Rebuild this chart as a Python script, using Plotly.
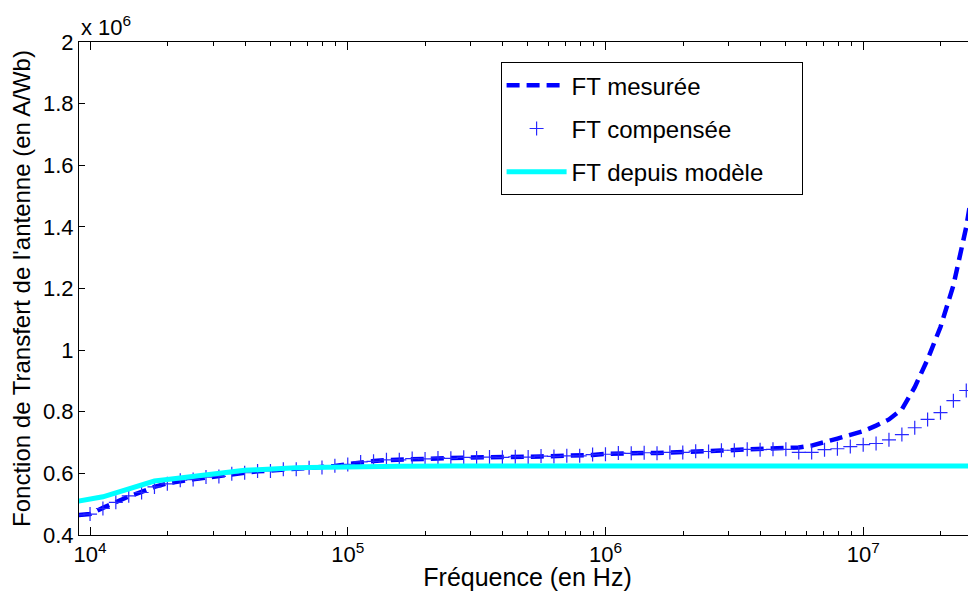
import numpy as np
import plotly.graph_objs as go

# frequency grid (Hz)
freq = [9.0e3,
        1.000e4, 1.122e4, 1.259e4, 1.413e4, 1.585e4, 1.778e4, 1.995e4, 2.239e4, 2.512e4, 2.818e4,
        3.162e4, 3.548e4, 3.981e4, 4.467e4, 5.012e4, 5.623e4, 6.310e4, 7.079e4, 7.943e4, 8.913e4,
        1.000e5, 1.122e5, 1.259e5, 1.413e5, 1.585e5, 1.778e5, 1.995e5, 2.239e5, 2.512e5, 2.818e5,
        3.162e5, 3.548e5, 3.981e5, 4.467e5, 5.012e5, 5.623e5, 6.310e5, 7.079e5, 7.943e5, 8.913e5,
        1.000e6, 1.122e6, 1.259e6, 1.413e6, 1.585e6, 1.778e6, 1.995e6, 2.239e6, 2.512e6, 2.818e6,
        3.162e6, 3.548e6, 3.981e6, 4.467e6, 5.012e6, 5.623e6, 6.310e6, 7.079e6, 7.943e6, 8.913e6,
        1.000e7, 1.122e7, 1.259e7, 1.413e7, 1.585e7, 1.778e7, 1.995e7, 2.239e7, 2.512e7, 2.818e7]

# values in units of 10^6 A/Wb
ft_mesuree = [0.465,
              0.468, 0.488, 0.508, 0.525, 0.540, 0.556, 0.568, 0.576, 0.581, 0.586,
              0.592, 0.598, 0.603, 0.607, 0.609, 0.612, 0.614, 0.617, 0.620, 0.624,
              0.630, 0.636, 0.640, 0.643, 0.645, 0.647, 0.648, 0.649, 0.650, 0.651,
              0.651, 0.652, 0.653, 0.653, 0.654, 0.655, 0.656, 0.656, 0.658, 0.660,
              0.663, 0.665, 0.666, 0.666, 0.666, 0.667, 0.669, 0.671, 0.672, 0.674,
              0.676, 0.678, 0.678, 0.679, 0.681, 0.684, 0.690, 0.700, 0.713, 0.725,
              0.737, 0.755, 0.775, 0.808, 0.880, 0.970, 1.075, 1.210, 1.400, 1.650]

ft_compensee = [0.465,
                0.468, 0.486, 0.506, 0.527, 0.538, 0.556, 0.566, 0.578, 0.580, 0.588,
                0.590, 0.599, 0.602, 0.608, 0.608, 0.613, 0.613, 0.618, 0.619, 0.625,
                0.629, 0.637, 0.639, 0.644, 0.644, 0.648, 0.647, 0.650, 0.649, 0.652,
                0.650, 0.653, 0.652, 0.654, 0.653, 0.656, 0.655, 0.657, 0.657, 0.661,
                0.662, 0.666, 0.665, 0.667, 0.665, 0.668, 0.668, 0.672, 0.671, 0.675,
                0.675, 0.678, 0.677, 0.678, 0.678, 0.668, 0.668, 0.677, 0.680, 0.687,
                0.693, 0.697, 0.709, 0.726, 0.748, 0.775, 0.797, 0.836, 0.869, 0.935]

freq_modele = [9.0e3,
               1.000e4, 1.122e4, 1.259e4, 1.413e4, 1.585e4, 1.778e4, 1.995e4, 2.239e4, 2.512e4, 2.818e4,
               3.162e4, 3.548e4, 3.981e4, 4.467e4, 5.012e4, 5.623e4, 6.310e4, 7.079e4, 7.943e4, 8.913e4,
               1.000e5, 1.259e5, 1.585e5, 2.512e5, 5.012e5, 1.000e6, 1.000e7, 2.818e7]
ft_modele = [0.510,
             0.515, 0.524, 0.537, 0.551, 0.564, 0.575, 0.580, 0.585, 0.591, 0.597,
             0.603, 0.607, 0.610, 0.612, 0.615, 0.617, 0.618, 0.619, 0.620, 0.621,
             0.622, 0.623, 0.623, 0.624, 0.624, 0.624, 0.624, 0.624]

x_ticks = [1e4, 1e5, 1e6, 1e7]
x_ticktext = ['10<sup>4</sup>', '10<sup>5</sup>', '10<sup>6</sup>', '10<sup>7</sup>']
x_minor = [m * d for d in [1e3, 1e4, 1e5, 1e6, 1e7] for m in range(2, 10)]
y_ticks = [0.4, 0.6, 0.8, 1.0, 1.2, 1.4, 1.6, 1.8, 2.0]
y_ticktext = ['0.4', '0.6', '0.8', '1', '1.2', '1.4', '1.6', '1.8', '2']

FONT = 'Liberation Sans, Arial, sans-serif'
PAD = '\u00a0' * 5

trace1 = go.Scatter(x=freq, y=ft_mesuree, mode='lines', name='FT mesurée' + PAD,
                    legendgroup='a',
                    line={'color': 'rgb(0,0,255)', 'width': 4.5, 'dash': '13px,7px'})
trace2 = go.Scatter(x=freq, y=ft_compensee, mode='markers', name='FT compensée',
                    legendgroup='b',
                    marker={'symbol': 'cross-thin', 'size': 10,
                            'line': {'color': 'rgb(40,40,255)', 'width': 1.2}})
trace3 = go.Scatter(x=freq_modele, y=ft_modele, mode='lines', name='FT depuis modèle' + PAD,
                    legendgroup='c',
                    line={'color': 'rgb(0,255,255)', 'width': 5})

# the page body adds an 8px offset, so the figure is 8px smaller than the window
layout = go.Layout(
    width=968, height=583,
    margin={'l': 71, 'r': 0, 't': 34, 'b': 56, 'autoexpand': False},
    paper_bgcolor='white', plot_bgcolor='white',
    font={'family': FONT, 'size': 22, 'color': 'black'},
    showlegend=True,
    legend={'x': 0.470, 'y': 0.959, 'xanchor': 'left', 'yanchor': 'top',
            'bordercolor': 'black', 'borderwidth': 1, 'bgcolor': 'white',
            'font': {'size': 24}, 'itemwidth': 60, 'tracegroupgap': 9,
            'traceorder': 'grouped'},
    xaxis={'type': 'log', 'range': [np.log10(9060), np.log10(2.74e7)],
           'automargin': False,
           'tickvals': x_ticks, 'ticktext': x_ticktext,
           'ticks': 'inside', 'ticklen': 8, 'tickcolor': 'black',
           'showline': True, 'linecolor': 'black', 'linewidth': 1, 'mirror': 'ticks',
           'showgrid': False, 'zeroline': False,
           'minor': {'tickvals': x_minor, 'ticks': 'inside', 'ticklen': 4,
                     'tickcolor': 'black', 'showgrid': False},
           'title': {'text': 'Fréquence (en Hz)', 'standoff': 1, 'font': {'size': 25}},
           'tickfont': {'size': 22}},
    yaxis={'range': [0.4, 2.0], 'tickvals': y_ticks, 'ticktext': y_ticktext,
           'automargin': False,
           'ticks': 'inside', 'ticklen': 6, 'tickcolor': 'black',
           'showline': True, 'linecolor': 'black', 'linewidth': 1, 'mirror': False,
           'showgrid': False, 'zeroline': False,
           'title': {'text': "Fonction de Transfert de l'antenne (en A/Wb)", 'standoff': 6,
                     'font': {'size': 24}},
           'tickfont': {'size': 22}},
    annotations=[{'text': 'x 10<sup>6</sup>', 'xref': 'paper', 'yref': 'paper',
                  'x': 0.0, 'y': 1.0, 'xanchor': 'left', 'yanchor': 'bottom',
                  'showarrow': False, 'font': {'size': 22}}],
)

fig = go.Figure(data=[trace1, trace2, trace3], layout=layout)
fig.write_html("out.html")
